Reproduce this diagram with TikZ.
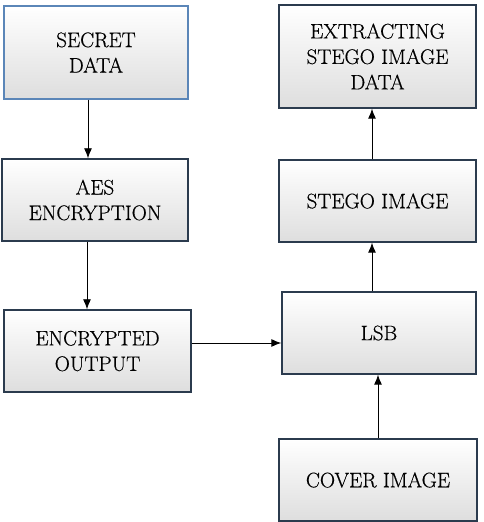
\documentclass[tikz,border=0pt]{standalone}
\usepackage{fontspec}
\newfontfamily\tnr{Latin Modern Roman}[FakeBold=0.5]
\usetikzlibrary{arrows.meta,calc}
\definecolor{boxline}{HTML}{2B3B4E}
\definecolor{boxblue}{HTML}{5B86B8}
\begin{document}
\begin{tikzpicture}[x=1pt,y=1pt,
  box/.style={draw=boxline, line width=1.4pt, rectangle, top color=white, middle color=white, bottom color=black!13,
    align=center, font=\tnr\fontsize{21}{25.5}\selectfont, inner sep=0pt},
  arr/.style={-{Latex[length=10pt,width=8pt]}, line width=0.9pt, black}]
\useasboundingbox (0,0) rectangle (484,522);
\node[box, draw=boxblue, minimum width=184, minimum height=93] (secret) at (96,469.5) {SECRET\\DATA};
\node[box, minimum width=197, minimum height=103] (extract) at (377.5,465.5) {EXTRACTING\\STEGO IMAGE\\DATA};
\node[box, minimum width=186, minimum height=82] (aes) at (95,322) {AES\\ENCRYPTION};
\node[box, minimum width=197, minimum height=82] (stego) at (377.5,321) {STEGO IMAGE};
\node[box, minimum width=187, minimum height=82] (enc) at (97.5,171) {ENCRYPTED\\OUTPUT};
\node[box, minimum width=194, minimum height=82] (lsb) at (379,189) {LSB};
\node[box, minimum width=198, minimum height=82] (cover) at (378,42) {COVER IMAGE};
\draw[arr] ([xshift=-8pt]secret.south) -- ([xshift=-8pt]secret.south |- aes.north);
\draw[arr] ([xshift=-8pt]aes.south) -- ([xshift=-8pt]aes.south |- enc.north);
\draw[arr] ([yshift=8pt]enc.east) -- ([yshift=8pt]enc.east -| lsb.west);
\draw[arr] (cover.north) -- (cover.north |- lsb.south);
\draw[arr] ([xshift=-7pt]lsb.north) -- ([xshift=-7pt]lsb.north |- stego.south);
\draw[arr] ([xshift=-5.5pt]stego.north) -- ([xshift=-5.5pt]stego.north |- extract.south);
\end{tikzpicture}
\end{document}
